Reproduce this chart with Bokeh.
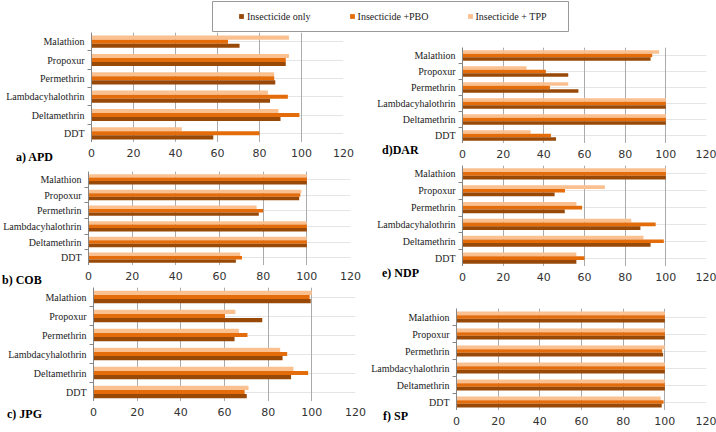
from bokeh.plotting import figure
from bokeh.models import (Range1d, FactorRange, CategoricalAxis, FixedTicker, Grid,
                          Legend, LegendItem, ColumnDataSource, Div)
from bokeh.transform import dodge
from bokeh.layouts import row, column
from bokeh.embed import file_html
from bokeh.resources import INLINE

# ---------------- data (bottom-up order of the y axis) ----------------
categories = ["DDT", "Deltamethrin", "Lambdacyhalothrin", "Permethrin", "Propoxur", "Malathion"]
series_names = ["Insecticide only", "Insecticide +PBO", "Insecticide + TPP"]
x_ticks = [0, 20, 40, 60, 80, 100, 120]

apd_only = [58, 90, 85, 87.5, 92.5, 70.5]
apd_pbo = [80, 99, 93.5, 87, 92.5, 65]
apd_tpp = [43, 89, 84, 87, 94, 94]

cob_only = [67.5, 100, 100, 78, 96.5, 100]
cob_pbo = [70.3, 100, 100, 80, 97, 100]
cob_tpp = [69.5, 100, 100, 77, 97.5, 100]

jpg_only = [70.2, 90.5, 86.6, 64.6, 77.3, 99.5]
jpg_pbo = [69.2, 98.3, 88.7, 70.5, 60.2, 99]
jpg_tpp = [71, 91.6, 85.5, 66.6, 65, 100]

dar_only = [46, 100, 100, 57, 52, 92.5]
dar_pbo = [43.5, 100, 100, 43, 41, 93.3]
dar_tpp = [33.5, 100, 100, 52, 31.5, 96.7]

ndp_only = [56, 92.5, 87.5, 50.3, 45.3, 100]
ndp_pbo = [60, 99, 95, 58.8, 50.4, 100]
ndp_tpp = [56, 89, 83, 56, 70, 100]

sp_only = [98.5, 100, 100, 99.2, 100, 100]
sp_pbo = [99.4, 100, 100, 98.7, 100, 100]
sp_tpp = [98, 100, 100, 100, 100, 100]

# ---------------- styling ----------------
C_ONLY = "#984807"
C_PBO = "#E46C0A"
C_TPP = "#FAC090"
GRID = "#ABABAB"
AXIS = "#868686"
SERIF = "Liberation Serif"
SANS = "DejaVu Sans"
BAR_H = 0.22
AX_PAD = 10    # room left of the x axis strip for the "0" label


def panel(title, only, pbo, tpp, width, plot_h, bl, br, bt, t_left, t_mid, ax_h=22):
    x_range = Range1d(0, 120)
    p = figure(width=width, height=plot_h,
               x_range=x_range, y_range=FactorRange(factors=categories),
               output_backend="svg", toolbar_location=None,
               x_axis_location=None, y_axis_location=None,
               min_border_left=bl, min_border_right=br,
               min_border_top=bt, min_border_bottom=0)
    p.outline_line_color = None
    p.background_fill_color = "white"
    p.border_fill_color = "white"
    p.add_layout(Grid(dimension=0, ticker=FixedTicker(ticks=x_ticks),
                      grid_line_color=GRID, grid_line_width=1))

    src = ColumnDataSource(dict(cat=categories, only=only, pbo=pbo, tpp=tpp))
    p.hbar(y=dodge("cat", BAR_H, range=p.y_range), left=0, right="tpp", height=BAR_H,
           source=src, fill_color=C_TPP, line_color=None)
    p.hbar(y=dodge("cat", 0, range=p.y_range), left=0, right="pbo", height=BAR_H,
           source=src, fill_color=C_PBO, line_color=None)
    p.hbar(y=dodge("cat", -BAR_H, range=p.y_range), left=0, right="only", height=BAR_H,
           source=src, fill_color=C_ONLY, line_color=None)

    # tick marks between categories: a second factor range whose factor
    # centres fall on the category boundaries
    bounds = ["b%d" % i for i in range(len(categories) + 1)]
    p.extra_y_ranges = {"bounds": FactorRange(factors=bounds, range_padding=-0.5,
                                              range_padding_units="absolute")}
    ta = CategoricalAxis(y_range_name="bounds")
    ta.axis_line_color = AXIS
    ta.major_tick_line_color = AXIS
    ta.major_tick_out = 4
    ta.major_tick_in = 0
    ta.major_label_text_font_size = "0px"
    ta.major_label_text_alpha = 0
    ta.major_label_standoff = 0
    p.add_layout(ta, "left")

    ca = CategoricalAxis()
    ca.axis_line_color = None
    ca.major_tick_line_color = None
    ca.major_tick_out = 0
    ca.major_tick_in = 0
    ca.major_label_standoff = 3
    ca.major_label_text_font = SERIF
    ca.major_label_text_font_size = "10px"
    ca.major_label_text_color = "#222222"
    p.add_layout(ca, "left")

    # x-axis strip (shares the x range of the plot)
    frame_w = width - bl - br
    ax = figure(width=frame_w + br + AX_PAD, height=ax_h,
                x_range=x_range, y_range=Range1d(0, 1),
                output_backend="svg", toolbar_location=None,
                x_axis_location="below", y_axis_location=None,
                min_border_left=AX_PAD, min_border_right=br,
                min_border_top=0, min_border_bottom=ax_h - 3)
    ax.outline_line_color = None
    for g in ax.grid:
        g.visible = False
    xa = ax.xaxis[0]
    xa.ticker = FixedTicker(ticks=x_ticks)
    xa.axis_line_color = None
    xa.major_tick_line_color = None
    xa.minor_tick_line_color = None
    xa.major_tick_out = 0
    xa.major_tick_in = 0
    xa.minor_tick_out = 0
    xa.major_label_standoff = 3
    xa.major_label_text_font = SANS
    xa.major_label_text_font_size = "11px"
    xa.major_label_text_color = "#333333"

    # panel title to the left of the tick labels
    html = ('<div style="position:relative;left:%dpx;top:%dpx;line-height:12px;'
            'font-family:\'Liberation Serif\';font-weight:bold;font-size:12px;'
            'color:#000;white-space:nowrap">%s</div>') % (t_left, t_mid - 6, title)
    tdiv = Div(text=html, width=bl - AX_PAD, height=ax_h, margin=(0, 0, 0, 0))

    return column(p, row(tdiv, ax, spacing=0), spacing=0)


LW, RW = 366, 350

fa = panel("a) APD", apd_only, apd_pbo, apd_tpp, LW, 110, 91, 23, 0, 16, 13)
fb = panel("b) COB", cob_only, cob_pbo, cob_tpp, LW, 101, 88, 16, 7, 2, 13)
fc = panel("c) JPG", jpg_only, jpg_pbo, jpg_tpp, LW, 114, 93, 11, 0, 7, 11)

fd = panel("d)DAR", dar_only, dar_pbo, dar_tpp, RW, 111, 96, 10, 15, 16, 5)
fe = panel("e) NDP", ndp_only, ndp_pbo, ndp_tpp, RW, 101, 96, 10, 0, 16, 5)
ff = panel("f) SP", sp_only, sp_pbo, sp_tpp, RW, 122, 90, 10, 20, 17, 4, ax_h=20)

# ---------------- legend strip ----------------
lf = figure(width=LW + RW, height=32, x_range=Range1d(0, 120),
            y_range=FactorRange(factors=categories),
            output_backend="svg", toolbar_location=None,
            x_axis_location=None, y_axis_location=None,
            min_border_left=212, min_border_right=LW + RW - 212 - 356,
            min_border_top=1, min_border_bottom=1)
lf.outline_line_color = "#999999"
lf.outline_line_width = 1
for g in lf.grid:
    g.visible = False
# zero-height bars: they only supply the legend swatches
r1 = lf.hbar(y=categories, left=0, right=apd_only, height=0, fill_color=C_ONLY, line_color=None)
r2 = lf.hbar(y=categories, left=0, right=apd_pbo, height=0, fill_color=C_PBO, line_color=None)
r3 = lf.hbar(y=categories, left=0, right=apd_tpp, height=0, fill_color=C_TPP, line_color=None)
leg = Legend(items=[LegendItem(label=series_names[0], renderers=[r1]),
                    LegendItem(label=series_names[1], renderers=[r2]),
                    LegendItem(label=series_names[2], renderers=[r3])],
             orientation="horizontal", location=(26, 9),
             border_line_color=None, background_fill_alpha=0,
             padding=0, margin=0, spacing=38,
             glyph_width=6, glyph_height=6, label_standoff=3, label_height=12,
             label_text_font=SERIF, label_text_font_size="10px", label_text_color="#222222")
lf.add_layout(leg, "center")

layout = column(lf, row(column(fa, fb, fc, spacing=0), column(fd, fe, ff, spacing=0), spacing=0),
                spacing=0)

open("out.html", "w").write(file_html(layout, INLINE))
